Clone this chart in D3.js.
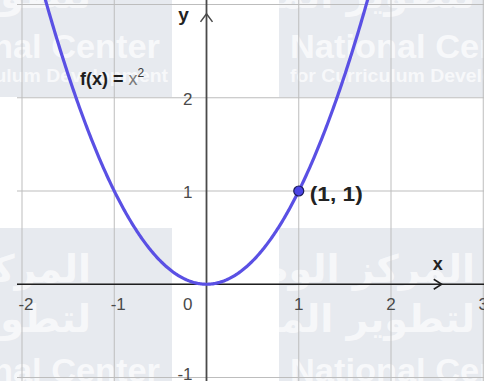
<!DOCTYPE html>
<html><head><meta charset="utf-8">
<script src="https://cdn.jsdelivr.net/npm/d3@7"></script>
<style>
html,body{margin:0;padding:0;background:#fff;}
svg{display:block;}
</style></head><body>
<svg id="chart" width="484" height="389"></svg>
<script>
// Axis ticks and their labels
const xTicks = [-2, -1, 0, 1, 2, 3];
const xTickLabels = ["-2", "-1", "0", "1", "2", "3"];
const yTicks = [-1, 0, 1, 2, 3];
const yTickLabels = ["-1", "", "1", "2", ""];

// Marked point on the curve
const pointX = [1];
const pointY = [1];
const pointLabels = ["(1, 1)"];

// The plotted function, as named in its label
const f = x => x * x;
const curveDomain = [-1.9, 1.9];

// Watermark tiles (top-left corners)
const tileX = [279, -105];
const tileY = [-96, 228];

const W = 484, H = 389;
const svg = d3.select("#chart");

const plot = {left: 17, right: 484, top: 0, bottom: 381};
const x = d3.scaleLinear().domain([-2, 2]).range([22, 391]);
const y = d3.scaleLinear().domain([-1, 3]).range([377.5, 4.5]);

const defs = svg.append("defs");
defs.append("clipPath").attr("id", "plotClip")
  .append("rect").attr("x", plot.left).attr("y", plot.top)
  .attr("width", plot.right - plot.left).attr("height", plot.bottom - plot.top);
defs.append("clipPath").attr("id", "wmClip")
  .append("rect").attr("x", 0).attr("y", 0).attr("width", W).attr("height", plot.bottom);

const font = "'Liberation Sans', Arial, sans-serif";

// Watermark, drawn underneath the graph
const wm = svg.append("g").attr("clip-path", "url(#wmClip)");
tileY.forEach(ty => tileX.forEach(tx => {
  const t = wm.append("g").attr("transform", `translate(${tx},${ty})`);
  t.append("rect").attr("width", 277).attr("height", 193)
    .attr("fill", "#aab3c4").attr("opacity", 0.28);
  t.append("text").attr("x", 196).attr("y", 54).attr("text-anchor", "end")
    .attr("font-family", "'DejaVu Sans', sans-serif").attr("font-weight", "bold")
    .attr("font-size", 38).attr("fill", "#fff").attr("opacity", 0.65)
    .text("المركز الوطني");
  t.append("text").attr("x", 196).attr("y", 104).attr("text-anchor", "end")
    .attr("font-family", "'DejaVu Sans', sans-serif").attr("font-weight", "bold")
    .attr("font-size", 38).attr("fill", "#fff").attr("opacity", 0.65)
    .text("لتطوير المناهج");
  t.append("text").attr("x", 11).attr("y", 154)
    .attr("font-family", font).attr("font-weight", "bold").attr("font-size", 34)
    .attr("textLength", 254).attr("lengthAdjust", "spacingAndGlyphs")
    .attr("fill", "#fff").attr("opacity", 0.7).text("National Center");
  t.append("text").attr("x", 11).attr("y", 178)
    .attr("font-family", font).attr("font-weight", "bold").attr("font-size", 19)
    .attr("textLength", 262).attr("lengthAdjust", "spacingAndGlyphs")
    .attr("fill", "#fff").attr("opacity", 0.7).text("for Curriculum Development");
}));

// Grid
const grid = svg.append("g").attr("clip-path", "url(#plotClip)");
grid.selectAll("line.vx").data(xTicks).join("line")
  .attr("x1", d => x(d)).attr("x2", d => x(d))
  .attr("y1", plot.top).attr("y2", plot.bottom)
  .attr("stroke", "#bdbdbd").attr("stroke-width", 1);
grid.selectAll("line.hy").data(yTicks).join("line")
  .attr("y1", d => y(d)).attr("y2", d => y(d))
  .attr("x1", plot.left).attr("x2", plot.right)
  .attr("stroke", "#bdbdbd").attr("stroke-width", 1);

// Axes
const axes = svg.append("g").attr("clip-path", "url(#plotClip)");
axes.append("line")
  .attr("x1", plot.left).attr("x2", plot.right)
  .attr("y1", y(0)).attr("y2", y(0))
  .attr("stroke", "#1e1e1e").attr("stroke-width", 1.6);
axes.append("line")
  .attr("x1", x(0)).attr("x2", x(0))
  .attr("y1", plot.top).attr("y2", plot.bottom)
  .attr("stroke", "#4a4a4a").attr("stroke-width", 1.8);

// Axis arrows
const ax = x(2.55), ay = y(0);
axes.append("path")
  .attr("d", `M${ax - 8},${ay - 5} L${ax},${ay} L${ax - 8},${ay + 5}`)
  .attr("fill", "none").attr("stroke", "#1e1e1e").attr("stroke-width", 1.5);
const bx = x(0), by = y(2.9);
axes.append("path")
  .attr("d", `M${bx - 6},${by + 8} L${bx},${by} L${bx + 6},${by + 8}`)
  .attr("fill", "none").attr("stroke", "#4a4a4a").attr("stroke-width", 1.5);

// Axis names
svg.append("text").attr("x", x(2.55) - 4).attr("y", y(0) - 14)
  .attr("text-anchor", "middle").attr("font-family", font)
  .attr("font-weight", "bold").attr("font-size", 18).attr("fill", "#222").text("x");
svg.append("text").attr("x", x(0) - 23).attr("y", 21)
  .attr("text-anchor", "middle").attr("font-family", font)
  .attr("font-weight", "bold").attr("font-size", 19).attr("fill", "#222").text("y");

// Tick labels
const tickG = svg.append("g").attr("clip-path", "url(#plotClip)")
  .attr("font-family", font).attr("font-size", 17).attr("fill", "#4a4a4a");
tickG.selectAll("text.xt").data(xTicks).join("text")
  .attr("x", d => d === 0 ? x(0) - 14 : x(d) + (d < 0 ? 4 : 0))
  .attr("y", y(0) + 26)
  .attr("text-anchor", d => d === 0 ? "end" : "middle")
  .text((d, i) => xTickLabels[i]);
tickG.selectAll("text.yt").data(yTicks).join("text")
  .attr("x", x(0) - 14)
  .attr("y", d => Math.min(y(d) + 7, plot.bottom - 1))
  .attr("text-anchor", "end")
  .text((d, i) => yTickLabels[i]);

// Curve
const samples = d3.range(curveDomain[0], curveDomain[1] + 1e-9, 0.01).map(v => [v, f(v)]);
const line = d3.line().x(d => x(d[0])).y(d => y(d[1]));
svg.append("g").attr("clip-path", "url(#plotClip)")
  .append("path").datum(samples).attr("d", line)
  .attr("fill", "none").attr("stroke", "#5a50e4").attr("stroke-width", 3.2)
  .attr("stroke-linejoin", "round");

// Function label
const fl = svg.append("text").attr("x", 80).attr("y", 85)
  .attr("font-family", font).attr("font-size", 18);
fl.append("tspan").attr("font-weight", "bold").attr("fill", "#1e1e1e").text("f(x) = ");
fl.append("tspan").attr("fill", "#7a7a7a").text("x");
fl.append("tspan").attr("fill", "#3a3a3a").attr("font-size", 12).attr("dy", -8).text("2");

// Point and its label
const pts = pointX.map((v, i) => ({x: v, y: pointY[i], label: pointLabels[i]}));
svg.selectAll("circle.pt").data(pts).join("circle")
  .attr("cx", d => x(d.x)).attr("cy", d => y(d.y)).attr("r", 5)
  .attr("fill", "#4a44e6").attr("stroke", "#1d1d5a").attr("stroke-width", 1.2);
svg.selectAll("text.pl").data(pts).join("text")
  .attr("x", d => x(d.x) + 11).attr("y", d => y(d.y) + 10)
  .attr("font-family", font).attr("font-weight", "bold").attr("font-size", 20)
  .attr("textLength", 53).attr("lengthAdjust", "spacingAndGlyphs")
  .attr("fill", "#222").text(d => d.label);
</script>
</body></html>
